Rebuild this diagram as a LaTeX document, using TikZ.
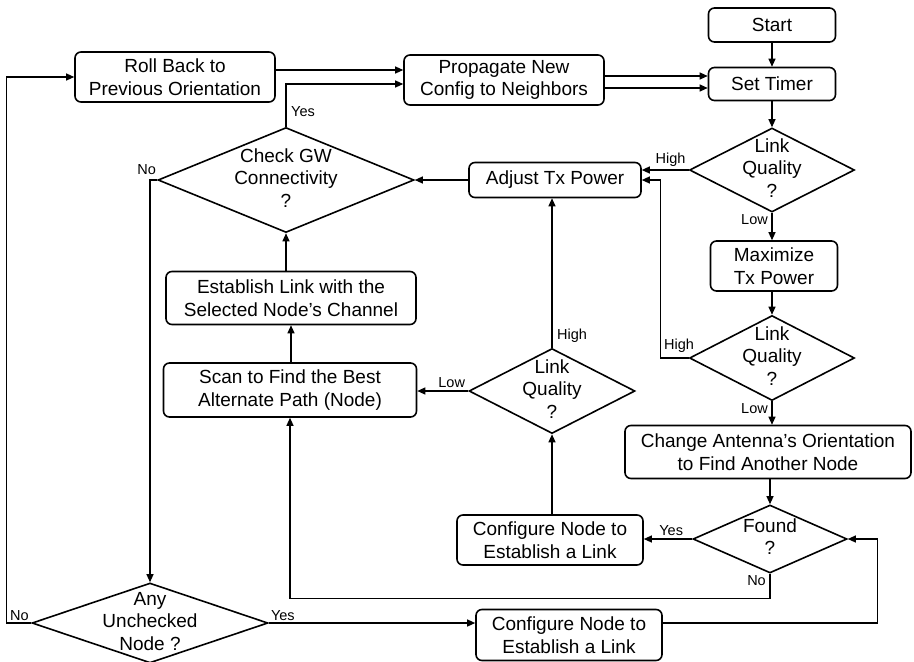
\documentclass[tikz,border=0pt]{standalone}
\usepackage{fontspec}
\setmainfont{Liberation Sans}
\usetikzlibrary{arrows.meta,shapes.geometric,calc}
% zero-width stack of centred lines, so a diamond takes its size from its minimums
\newcommand\declines[1]{\makebox[0pt]{\begin{tabular}{@{}c@{}}#1\end{tabular}}}
\begin{document}
\begin{tikzpicture}[x=1pt,y=-1pt,
  box/.style={draw, line width=1.6pt, rounded corners=6pt, align=center,
    inner sep=2pt, font=\fontsize{19}{22.5}\selectfont},
  dec/.style={draw, diamond, aspect=1, inner sep=0pt, line width=1.6pt,
    font=\fontsize{19}{22.5}\selectfont},
  conn/.style={line width=1.2pt, -{Triangle[length=8pt,width=7pt]}},
  lbl/.style={font=\fontsize{14.5}{16}\selectfont, inner sep=1pt}]
\useasboundingbox (0,0) rectangle (914,662);

% process boxes
\node[box, minimum width=127pt, minimum height=34pt] (start) at (772,25) {Start};
\node[box, minimum width=127pt, minimum height=33pt] (timer) at (772,84) {Set Timer};
\node[box, minimum width=200pt, minimum height=50pt] (prop) at (504,80) {Propagate New\\Config to Neighbors};
\node[box, minimum width=200pt, minimum height=50pt] (roll) at (175,77) {Roll Back to\\Previous Orientation};
\node[box, minimum width=172pt, minimum height=35pt] (adj) at (555,180) {Adjust Tx Power};
\node[box, minimum width=127pt, minimum height=50pt] (maxim) at (774,266) {Maximize\\Tx Power};
\node[box, minimum width=286pt, minimum height=53pt] (chg) at (768,452) {Change Antenna’s Orientation\\to Find Another Node};
\node[box, minimum width=186pt, minimum height=50pt] (cfga) at (550,540) {Configure Node to\\Establish a Link};
\node[box, minimum width=186pt, minimum height=51pt] (cfgb) at (569,635) {Configure Node to\\Establish a Link};
\node[box, minimum width=253pt, minimum height=54pt] (scan) at (290,390) {Scan to Find the Best\\Alternate Path (Node)};
\node[box, minimum width=250pt, minimum height=53pt] (est) at (291,298) {Establish Link with the\\Selected Node’s Channel};

% decisions
\node[dec, minimum width=165pt, minimum height=84pt] (lqa) at (772,170) {\declines{Link\\Quality\\?}};
\node[dec, minimum width=165pt, minimum height=85pt] (lqb) at (772,358) {\declines{Link\\Quality\\?}};
\node[dec, minimum width=166pt, minimum height=85pt] (lqc) at (552,391) {\declines{Link\\Quality\\?}};
\node[dec, minimum width=154pt, minimum height=68pt] (found) at (770,539) {\declines{Found\\?}};
\node[dec, minimum width=256pt, minimum height=105pt] (gw) at (286,180) {\declines{Check GW\\Connectivity\\?}};
\node[dec, minimum width=236pt, minimum height=80pt] (any) at (150,623) {\declines{Any\\Unchecked\\Node ?}};

% helper points on box sides
\coordinate (r1) at ([yshift=7pt]roll.east);
\coordinate (p1) at ([yshift=4pt]prop.east);
\coordinate (p2) at ([yshift=-8pt]prop.east);
\coordinate (p3) at ([yshift=-4pt]prop.west);

% connectors
\draw[conn] (start) -- (timer);
\draw[conn] (timer) -- (lqa);
\draw[conn] (r1) -- (r1 -| prop.west);
\draw[conn] (p1) -- (p1 -| timer.west);
\draw[conn] (p2) -- (p2 -| timer.west);
\draw[conn] (gw.north) -- (gw.north |- p3) -- (p3);
\draw[conn] (lqa.west) -- (lqa.west -| adj.east);
\draw[conn] (lqa.south) -- (maxim.north -| lqa.south);
\draw[conn] (maxim.south -| lqb.north) -- (lqb.north);
\draw[conn] (lqb.west) -- ++(-28,0) |- (adj.east);
\draw[conn] (lqb.south) -- (lqb.south |- chg.north);
\draw[conn] (found.north |- chg.south) -- (found.north);
\draw[conn] (found.west) -- (found.west -| cfga.east);
\draw[conn] (found.south) -- ++(0,25) -| (scan.south);
\draw[conn] (lqc.south |- cfga.north) -- (lqc.south);
\draw[conn] (lqc.north) -- (lqc.north |- adj.south);
\draw[conn] (lqc.west) -- (lqc.west -| scan.east);
\draw[conn] (scan.north -| est.south) -- (est.south);
\draw[conn] (gw.south |- est.north) -- (gw.south);
\draw[conn] (adj.west) -- (adj.west -| gw.east);
\draw[conn] (gw.west) -| (any.north);
\draw[conn] (any.west) -- ++(-25,0) |- (roll.west);
\draw[conn] (any.east) -- (any.east -| cfgb.west);
\draw[conn] (any.east -| cfgb.east) -- ++(215,0) |- (found.east);

% branch labels
\node[lbl, anchor=south west] at ([xshift=4pt,yshift=4pt]gw.north |- 0,122) {Yes};
\node[lbl, anchor=south east] at ([xshift=-2pt,yshift=2pt]lqa.west) {High};
\node[lbl, anchor=north east] at ([xshift=-3pt,yshift=-1pt]lqa.south) {Low};
\node[lbl, anchor=south] at (679,354) {High};
\node[lbl, anchor=north east] at ([xshift=-3pt,yshift=-1pt]lqb.south) {Low};
\node[lbl, anchor=south east] at ([xshift=-8pt,yshift=2pt]found.west) {Yes};
\node[lbl, anchor=north east] at ([xshift=-3pt,yshift=-1pt]found.south) {No};
\node[lbl, anchor=south west] at ([xshift=4pt,yshift=4pt]lqc.north) {High};
\node[lbl, anchor=south east] at ([xshift=-2pt,yshift=2pt]lqc.west) {Low};
\node[lbl, anchor=south east] at ([xshift=0pt,yshift=4pt]gw.west) {No};
\node[lbl, anchor=south west] at (9,622) {No};
\node[lbl, anchor=south west] at ([xshift=1pt,yshift=1pt]any.east) {Yes};
\end{tikzpicture}
\end{document}
